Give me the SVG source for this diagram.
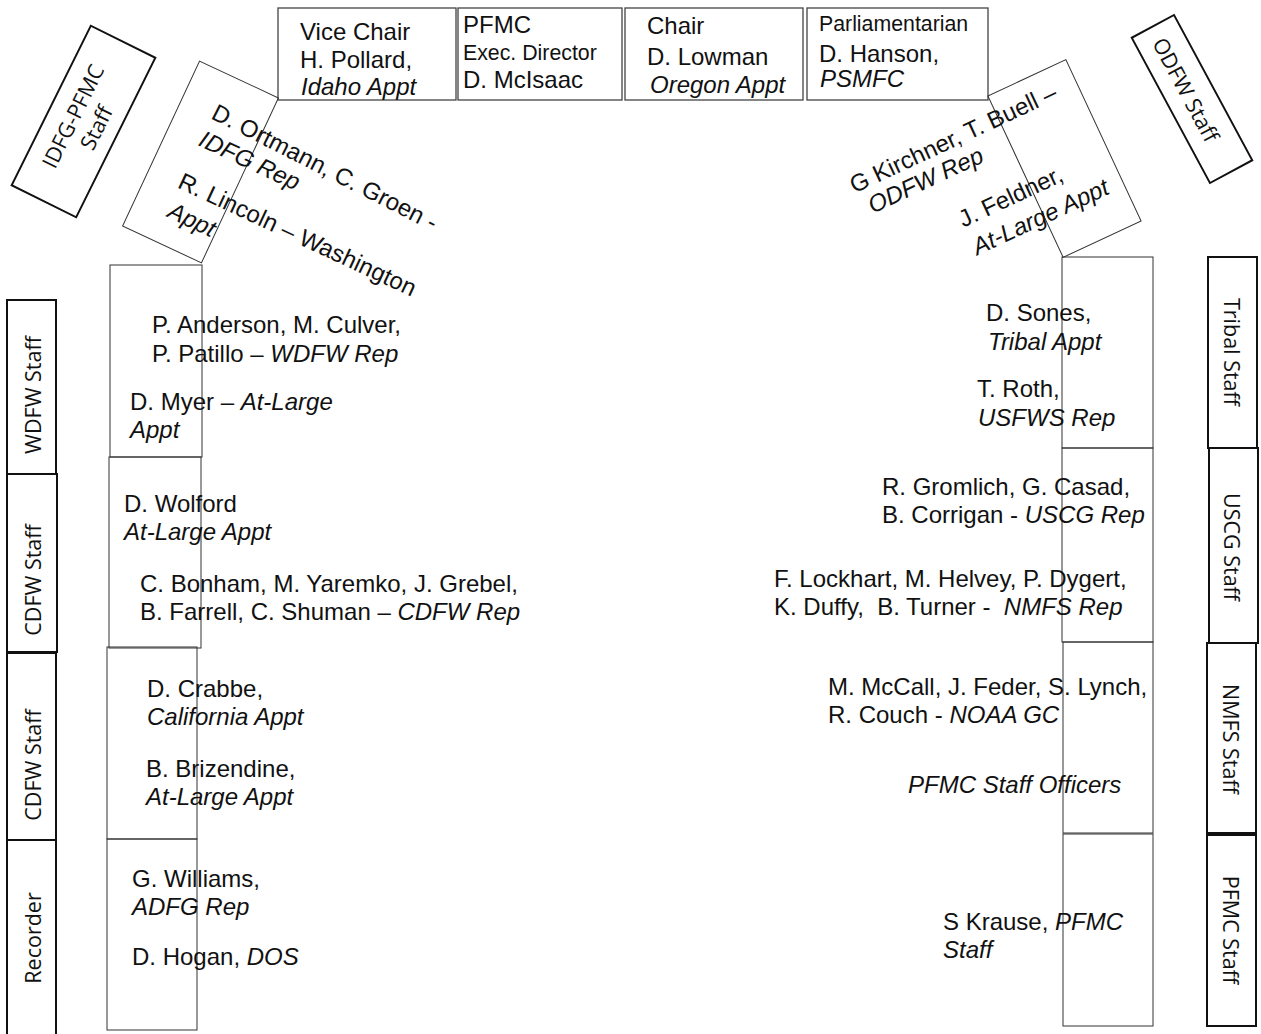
<svg xmlns="http://www.w3.org/2000/svg" width="1261" height="1034" viewBox="0 0 1261 1034">
<style>
.seat{fill:none;stroke:#333;stroke-width:1}
.staff{fill:none;stroke:#111;stroke-width:2}
.top{fill:none;stroke:#444;stroke-width:1.3}
.t{font-family:"Liberation Sans",Arial,sans-serif;font-size:24px;fill:#111;white-space:pre}
.sm{font-size:21.3px}
.i{font-style:italic}
.st{font-family:"Open Sans","Noto Sans",sans-serif;font-size:21.5px;fill:#111;text-anchor:middle}
</style>
<rect width="1261" height="1034" fill="#fff"/>
<g id="connectors"></g>

<!-- top row -->
<g id="vice-chair">
<rect class="top" x="278" y="8" width="178" height="92"/>
<text class="t" x="300" y="40">Vice Chair</text>
<text class="t" x="300" y="68">H. Pollard,</text>
<text class="t i" x="301" y="95">Idaho Appt</text>
</g>
<g id="exec-director">
<rect class="top" x="458" y="8" width="164" height="92"/>
<text class="t" x="463" y="33">PFMC</text>
<text class="t sm" x="463" y="60">Exec. Director</text>
<text class="t" x="463" y="88">D. McIsaac</text>
</g>
<g id="chair">
<rect class="top" x="625" y="8" width="178" height="92"/>
<text class="t" x="647" y="34">Chair</text>
<text class="t" x="647" y="65">D. Lowman</text>
<text class="t i" x="650" y="93">Oregon Appt</text>
</g>
<g id="parliamentarian">
<rect class="top" x="807" y="8" width="181" height="92"/>
<text class="t sm" x="819" y="31">Parliamentarian</text>
<text class="t" x="819" y="62">D. Hanson,</text>
<text class="t i" x="820" y="87">PSMFC</text>
</g>

<!-- tilted staff -->
<g id="idfg-staff" transform="translate(83.5,121.5) rotate(-63.6)">
<rect class="staff" x="-89" y="-36" width="178" height="72"/>
<text class="st" x="0" y="-4">IDFG-PFMC</text>
<text class="st" x="0" y="22">Staff</text>
</g>
<g id="odfw-staff" transform="translate(1192,99) rotate(61.7)">
<rect class="staff" x="-82.5" y="-24" width="165" height="48"/>
<text class="st" x="-11" y="9">ODFW Staff</text>
</g>

<!-- tilted seats -->
<g id="idfg-seat" transform="translate(200.5,162) rotate(25)">
<rect class="seat" x="-43.5" y="-91" width="87" height="182"/>
<text class="t" x="-10" y="-44" transform="rotate(2,-10,-44)">D. Ortmann, C. Groen -</text>
<text class="t i" x="-10" y="-14">IDFG Rep</text>
<text class="t" x="-11" y="33">R. Lincoln – Washington</text>
<text class="t i" x="-8" y="64">Appt</text>
</g>
<g id="odfw-seat" transform="translate(1064.5,158.5) rotate(-25)">
<rect class="seat" x="-43" y="-89" width="86" height="178"/>
<text class="t" x="-205" y="-57">G Kirchner, T. Buell –</text>
<text class="t i" x="-197" y="-31">ODFW Rep</text>
<text class="t" x="-121" y="20">J. Feldner,</text>
<text class="t i" x="-120" y="51">At-Large Appt</text>
</g>

<!-- left staff column -->
<g id="wdfw-staff">
<rect class="staff" x="7" y="300" width="49" height="174"/>
<text class="st" transform="translate(40.5,395) rotate(-90)">WDFW Staff</text>
</g>
<g id="cdfw-staff-1">
<rect class="staff" x="7" y="474" width="50" height="178"/>
<text class="st" transform="translate(40.5,580) rotate(-90)">CDFW Staff</text>
</g>
<g id="cdfw-staff-2">
<rect class="staff" x="7" y="653" width="49" height="187"/>
<text class="st" transform="translate(40.5,765) rotate(-90)">CDFW Staff</text>
</g>
<g id="recorder">
<rect class="staff" x="7" y="840" width="49" height="200"/>
<text class="st" transform="translate(40.5,938) rotate(-90)">Recorder</text>
</g>

<!-- left seats -->
<g id="wdfw-seat">
<rect class="seat" x="110" y="265" width="92" height="192"/>
<text class="t" x="152" y="333">P. Anderson, M. Culver,</text>
<text class="t" x="152" y="362">P. Patillo – <tspan class="i">WDFW Rep</tspan></text>
<text class="t" x="130" y="410">D. Myer – <tspan class="i">At-Large</tspan></text>
<text class="t i" x="130" y="438">Appt</text>
</g>
<g id="cdfw-seat">
<rect class="seat" x="109" y="457" width="92" height="191"/>
<text class="t" x="124" y="512">D. Wolford</text>
<text class="t i" x="124" y="540">At-Large Appt</text>
<text class="t" x="140" y="592">C. Bonham, M. Yaremko, J. Grebel,</text>
<text class="t" x="140" y="620">B. Farrell, C. Shuman – <tspan class="i">CDFW Rep</tspan></text>
</g>
<g id="california-seat">
<rect class="seat" x="107" y="647" width="90" height="192"/>
<text class="t" x="147" y="697">D. Crabbe,</text>
<text class="t i" x="147" y="725">California Appt</text>
<text class="t" x="146" y="777">B. Brizendine,</text>
<text class="t i" x="146" y="805">At-Large Appt</text>
</g>
<g id="adfg-seat">
<rect class="seat" x="107" y="839" width="90" height="191"/>
<text class="t" x="132" y="887">G. Williams,</text>
<text class="t i" x="132" y="915">ADFG Rep</text>
<text class="t" x="132" y="965">D. Hogan, <tspan class="i">DOS</tspan></text>
</g>

<!-- right seats -->
<g id="tribal-seat">
<rect class="seat" x="1062" y="257" width="91" height="191"/>
<text class="t" x="986" y="321">D. Sones,</text>
<text class="t i" x="988" y="350">Tribal Appt</text>
<text class="t" x="977" y="397">T. Roth,</text>
<text class="t i" x="978" y="426">USFWS Rep</text>
</g>
<g id="uscg-seat">
<rect class="seat" x="1062" y="448" width="91" height="194"/>
<text class="t" x="882" y="495">R. Gromlich, G. Casad,</text>
<text class="t" x="882" y="523">B. Corrigan - <tspan class="i">USCG Rep</tspan></text>
<text class="t" x="774" y="587">F. Lockhart, M. Helvey, P. Dygert,</text>
<text class="t" x="774" y="615">K. Duffy,  B. Turner -  <tspan class="i">NMFS Rep</tspan></text>
</g>
<g id="noaa-seat">
<rect class="seat" x="1063" y="642" width="90" height="191"/>
<text class="t" x="828" y="695">M. McCall, J. Feder, S. Lynch,</text>
<text class="t" x="828" y="723">R. Couch - <tspan class="i">NOAA GC</tspan></text>
<text class="t i" x="908" y="793">PFMC Staff Officers</text>
</g>
<g id="pfmc-seat">
<rect class="seat" x="1063" y="834" width="90" height="192"/>
<text class="t" x="943" y="930">S Krause, <tspan class="i">PFMC</tspan></text>
<text class="t i" x="943" y="958">Staff</text>
</g>

<!-- right staff column -->
<g id="tribal-staff">
<rect class="staff" x="1208" y="257" width="49" height="191"/>
<text class="st" transform="translate(1223.5,352) rotate(90)">Tribal Staff</text>
</g>
<g id="uscg-staff">
<rect class="staff" x="1209" y="448" width="49" height="195"/>
<text class="st" transform="translate(1224,547) rotate(90)">USCG Staff</text>
</g>
<g id="nmfs-staff">
<rect class="staff" x="1207" y="643" width="49" height="190"/>
<text class="st" transform="translate(1223,739) rotate(90)">NMFS Staff</text>
</g>
<g id="pfmc-staff">
<rect class="staff" x="1207" y="835" width="49" height="191"/>
<text class="st" transform="translate(1223,930) rotate(90)">PFMC Staff</text>
</g>
</svg>
